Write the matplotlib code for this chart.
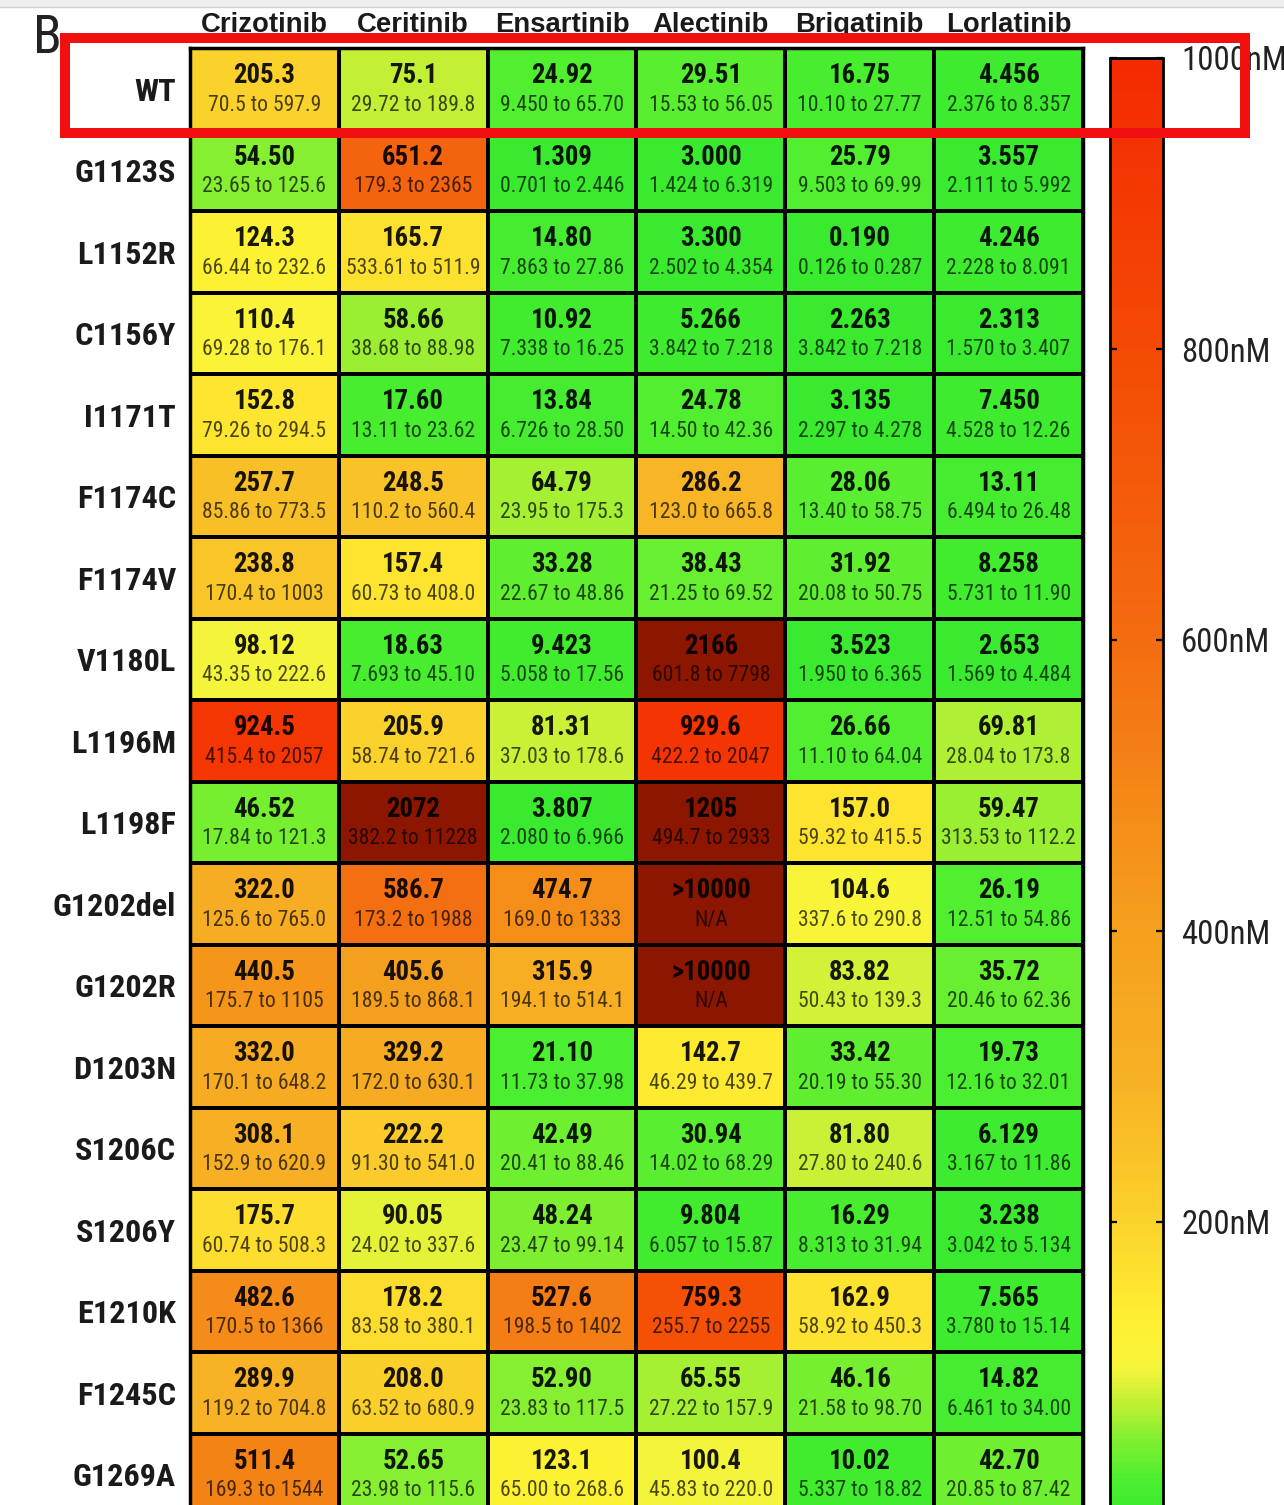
import numpy as np
import matplotlib
matplotlib.use("Agg")
import matplotlib.pyplot as plt
import matplotlib.cm as cm
from matplotlib.colors import LinearSegmentedColormap, Normalize
from matplotlib.patches import Rectangle
from matplotlib.lines import Line2D
from matplotlib.transforms import blended_transform_factory

drugs = ["Crizotinib", "Ceritinib", "Ensartinib", "Alectinib", "Brigatinib", "Lorlatinib"]
mutants = ["WT", "G1123S", "L1152R", "C1156Y", "I1171T", "F1174C", "F1174V", "V1180L",
           "L1196M", "L1198F", "G1202del", "G1202R", "D1203N", "S1206C", "S1206Y",
           "E1210K", "F1245C", "G1269A"]

# IC50 (nM) per mutant, one column per drug
ic50 = [
    ["205.3", "75.1", "24.92", "29.51", "16.75", "4.456"],
    ["54.50", "651.2", "1.309", "3.000", "25.79", "3.557"],
    ["124.3", "165.7", "14.80", "3.300", "0.190", "4.246"],
    ["110.4", "58.66", "10.92", "5.266", "2.263", "2.313"],
    ["152.8", "17.60", "13.84", "24.78", "3.135", "7.450"],
    ["257.7", "248.5", "64.79", "286.2", "28.06", "13.11"],
    ["238.8", "157.4", "33.28", "38.43", "31.92", "8.258"],
    ["98.12", "18.63", "9.423", "2166", "3.523", "2.653"],
    ["924.5", "205.9", "81.31", "929.6", "26.66", "69.81"],
    ["46.52", "2072", "3.807", "1205", "157.0", "59.47"],
    ["322.0", "586.7", "474.7", ">10000", "104.6", "26.19"],
    ["440.5", "405.6", "315.9", ">10000", "83.82", "35.72"],
    ["332.0", "329.2", "21.10", "142.7", "33.42", "19.73"],
    ["308.1", "222.2", "42.49", "30.94", "81.80", "6.129"],
    ["175.7", "90.05", "48.24", "9.804", "16.29", "3.238"],
    ["482.6", "178.2", "527.6", "759.3", "162.9", "7.565"],
    ["289.9", "208.0", "52.90", "65.55", "46.16", "14.82"],
    ["511.4", "52.65", "123.1", "100.4", "10.02", "42.70"],
]

# 95% confidence intervals
ci95 = [
    ["70.5 to 597.9", "29.72 to 189.8", "9.450 to 65.70", "15.53 to 56.05", "10.10 to 27.77", "2.376 to 8.357"],
    ["23.65 to 125.6", "179.3 to 2365", "0.701 to 2.446", "1.424 to 6.319", "9.503 to 69.99", "2.111 to 5.992"],
    ["66.44 to 232.6", "533.61 to 511.9", "7.863 to 27.86", "2.502 to 4.354", "0.126 to 0.287", "2.228 to 8.091"],
    ["69.28 to 176.1", "38.68 to 88.98", "7.338 to 16.25", "3.842 to 7.218", "3.842 to 7.218", "1.570 to 3.407"],
    ["79.26 to 294.5", "13.11 to 23.62", "6.726 to 28.50", "14.50 to 42.36", "2.297 to 4.278", "4.528 to 12.26"],
    ["85.86 to 773.5", "110.2 to 560.4", "23.95 to 175.3", "123.0 to 665.8", "13.40 to 58.75", "6.494 to 26.48"],
    ["170.4 to 1003", "60.73 to 408.0", "22.67 to 48.86", "21.25 to 69.52", "20.08 to 50.75", "5.731 to 11.90"],
    ["43.35 to 222.6", "7.693 to 45.10", "5.058 to 17.56", "601.8 to 7798", "1.950 to 6.365", "1.569 to 4.484"],
    ["415.4 to 2057", "58.74 to 721.6", "37.03 to 178.6", "422.2 to 2047", "11.10 to 64.04", "28.04 to 173.8"],
    ["17.84 to 121.3", "382.2 to 11228", "2.080 to 6.966", "494.7 to 2933", "59.32 to 415.5", "313.53 to 112.2"],
    ["125.6 to 765.0", "173.2 to 1988", "169.0 to 1333", "N/A", "337.6 to 290.8", "12.51 to 54.86"],
    ["175.7 to 1105", "189.5 to 868.1", "194.1 to 514.1", "N/A", "50.43 to 139.3", "20.46 to 62.36"],
    ["170.1 to 648.2", "172.0 to 630.1", "11.73 to 37.98", "46.29 to 439.7", "20.19 to 55.30", "12.16 to 32.01"],
    ["152.9 to 620.9", "91.30 to 541.0", "20.41 to 88.46", "14.02 to 68.29", "27.80 to 240.6", "3.167 to 11.86"],
    ["60.74 to 508.3", "24.02 to 337.6", "23.47 to 99.14", "6.057 to 15.87", "8.313 to 31.94", "3.042 to 5.134"],
    ["170.5 to 1366", "83.58 to 380.1", "198.5 to 1402", "255.7 to 2255", "58.92 to 450.3", "3.780 to 15.14"],
    ["119.2 to 704.8", "63.52 to 680.9", "23.83 to 117.5", "27.22 to 157.9", "21.58 to 98.70", "6.461 to 34.00"],
    ["169.3 to 1544", "23.98 to 115.6", "65.00 to 268.6", "45.83 to 220.0", "5.337 to 18.82", "20.85 to 87.42"],
]

cbar_ticks = [200, 400, 600, 800, 1000]

vals = np.array([[float(s.lstrip(">")) for s in row] for row in ic50])

# green -> yellow -> orange -> red, anything above 1000 nM is dark red
nodes = [0, 20, 45, 75, 100, 130, 200, 300, 400, 600, 800, 1000]
node_colors = ["#3aea2e", "#4cee30", "#78ef30", "#c4f035", "#f8f53a", "#fff032",
               "#fbd22b", "#f7b024", "#f5a01e", "#f46c10", "#f44a05", "#f42a00"]
cmap = LinearSegmentedColormap.from_list("ic50", [(v / 1000, c) for v, c in zip(nodes, node_colors)])
cmap.set_over("#8c1600")
norm = Normalize(0, 1000)

narrow = ["Liberation Sans Narrow", "Nimbus Sans Narrow", "Roboto Condensed",
          "Archivo Narrow", "Liberation Sans", "DejaVu Sans"]
wide = ["Liberation Sans", "DejaVu Sans"]

W, H = 1284, 1505
fig = plt.figure(figsize=(W / 100, H / 100), dpi=100)
renderer = fig.canvas.get_renderer()


def box(x0, y0, x1, y1):
    return [x0 / W, 1 - y1 / H, (x1 - x0) / W, (y1 - y0) / H]


def fit_size(sample, width_px, family, weight="normal"):
    # font size that makes `sample` come out width_px wide in whichever font gets picked
    t = fig.text(0, 0, sample, fontsize=20, family=family, fontweight=weight)
    w = t.get_window_extent(renderer=renderer).width
    t.remove()
    return 20 * width_px / w


fs_val = fit_size("205.3", 62, narrow, "bold")
fs_ci = fit_size("70.5 to 597.9", 113, narrow)
fs_row = fit_size("G1123S", 101, narrow, "bold")
fs_head = fit_size("Ensartinib", 134, wide, "bold")
fs_cb = fit_size("200nM", 89, narrow)

ax = fig.add_axes(box(190, 48, 1083, 1515))
nrow, ncol = len(mutants), len(drugs)
ax.pcolormesh(np.arange(ncol + 1), np.arange(nrow + 1), vals, cmap=cmap, norm=norm,
              edgecolors="black", linewidth=1.6)
ax.set_xlim(0, ncol)
ax.set_ylim(nrow, 0)

for i in range(nrow):
    for j in range(ncol):
        ax.text(j + 0.5, i + 0.34, ic50[i][j], ha="center", va="center", fontsize=fs_val,
                fontweight="bold", family=narrow, color="black", alpha=0.9)
        ax.text(j + 0.5, i + 0.70, ci95[i][j], ha="center", va="center", fontsize=fs_ci,
                family=narrow, color="black", alpha=0.7)

ax.set_yticks(np.arange(nrow) + 0.5)
ax.set_yticklabels(mutants, fontsize=fs_row, fontweight="bold", family=narrow, color="#1a1a1a")
ax.set_xticks([])
ax.tick_params(axis="both", length=0)
ax.tick_params(axis="y", pad=10)
for sp in ax.spines.values():
    sp.set_linewidth(2.5)

# drug names above the columns
head_tr = blended_transform_factory(ax.transData, fig.transFigure)
for j, d in enumerate(drugs):
    ax.text(j + 0.5, 1 - 32 / H, d, transform=head_tr, ha="center", va="baseline",
            fontsize=fs_head, fontweight="bold", family=wide, color="#1a1a1a")

cax = fig.add_axes(box(1110, 58, 1163, 1513))
cb = fig.colorbar(cm.ScalarMappable(norm=norm, cmap=cmap), cax=cax)
cb.set_ticks(cbar_ticks)
cb.set_ticklabels([f"{t}nM" for t in cbar_ticks])
cb.outline.set_linewidth(2)
cax.tick_params(direction="in", length=5, width=1.6, left=True, right=True, pad=13)
for lab in cax.get_yticklabels():
    lab.set_fontsize(fs_cb)
    lab.set_family(narrow)
    lab.set_color("#222222")

fig.text(33 / W, 1 - 53 / H, "B", fontsize=38, family=narrow, va="baseline", color="#222222")

# window strip along the top edge
fig.add_artist(Rectangle((0, 1 - 7 / H), 1, 7 / H, transform=fig.transFigure,
                         facecolor="#efeded", edgecolor="none"))
fig.add_artist(Line2D([0, 1], [1 - 7 / H, 1 - 7 / H], transform=fig.transFigure,
                      color="#cfcfcf", linewidth=1))

# highlight box around the WT row
fig.add_artist(Rectangle((65 / W, 1 - 132.5 / H), (1245 - 65) / W, (132.5 - 38) / H,
                         transform=fig.transFigure, fill=False, edgecolor="#f20f0f",
                         linewidth=7.2, zorder=10))

fig.savefig("out.png", dpi=100)
